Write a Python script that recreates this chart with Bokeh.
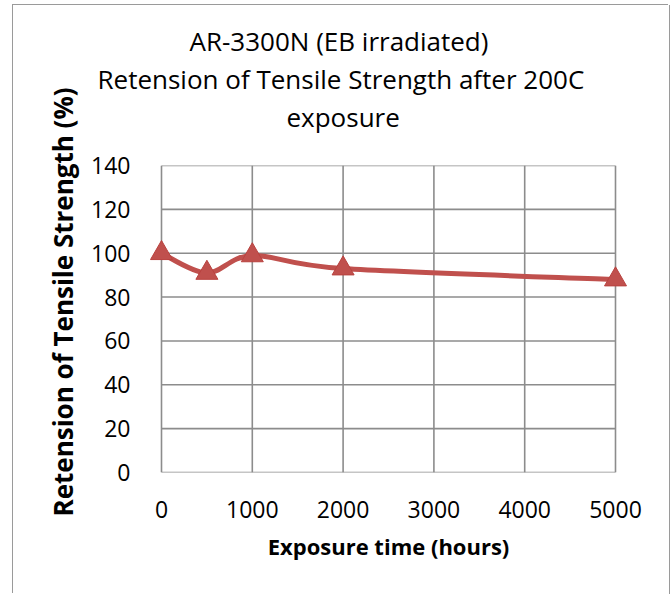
import numpy as np
from bokeh.plotting import figure
from bokeh.models import Range1d, FixedTicker, Title
from bokeh.embed import file_html
from bokeh.resources import INLINE

# ---- data ----
hours = [0, 500, 1000, 2000, 5000]
retention = [100, 91, 99, 93, 88]
x_ticks = [0, 1000, 2000, 3000, 4000, 5000]
y_ticks = [0, 20, 40, 60, 80, 100, 120, 140]
title_lines = ["AR-3300N (EB irradiated)",
               "Retension of Tensile Strength after 200C",
               "exposure"]
x_title = "Exposure time (hours)"
y_title = "Retension of Tensile Strength (%)"

FONT = "Open Sans"
RED = "#c0504d"
GRID = "#8c8c8c"
BORDER = "#9a9a9a"

x_min, x_max = x_ticks[0], x_ticks[-1]
y_min, y_max = y_ticks[0], y_ticks[-1]
pad = 14 * (x_max - x_min) / 454.0

p = figure(frame_width=482, frame_height=307,
           x_range=Range1d(x_min - pad, x_max + pad),
           y_range=Range1d(y_min, y_max),
           min_border_left=134, min_border_right=40,
           min_border_top=160, min_border_bottom=122,
           title=None, output_backend="svg", toolbar_location=None)
# chart-area border (left, top and right edges, as in the reference)
p.styles = {"margin-left": "13px", "margin-top": "5px",
            "box-shadow": f"-1px -1px 0 0 {BORDER}, 1px 0 0 0 {BORDER}"}
p.outline_line_color = None
p.background_fill_color = "white"
p.border_fill_color = "white"
p.xgrid.visible = False
p.ygrid.visible = False

# grid lines (limited to the tick extent, like the Excel plot area)
p.segment(x0=x_ticks, y0=y_min, x1=x_ticks, y1=y_max, line_color=GRID, line_width=1.6)
p.segment(x0=x_min, y0=y_ticks, x1=x_max, y1=y_ticks, line_color=GRID, line_width=1.6)

# axes
for ax in (p.xaxis, p.yaxis):
    ax.axis_line_color = None
    ax.major_tick_line_color = None
    ax.minor_tick_line_color = None
    ax.major_label_text_font = FONT
    ax.major_label_text_font_size = "23px"
    ax.major_label_text_color = "black"
p.xaxis.ticker = FixedTicker(ticks=x_ticks)
p.yaxis.ticker = FixedTicker(ticks=y_ticks)
p.xaxis.major_label_standoff = 22
p.yaxis.major_label_standoff = 11

# smoothed line (cubic Bezier through the points, Excel-style smoothing)
xs = np.array(hours, dtype=float)
ys = np.array(retention, dtype=float)
xp = np.concatenate([[xs[0]], xs, [xs[-1]]])
yp = np.concatenate([[ys[0]], ys, [ys[-1]]])
cx0 = xs[:-1] + (xp[2:-1] - xp[0:-3]) / 6.0
cy0 = ys[:-1] + (yp[2:-1] - yp[0:-3]) / 6.0
cx1 = xs[1:] - (xp[3:] - xp[1:-2]) / 6.0
cy1 = ys[1:] - (yp[3:] - yp[1:-2]) / 6.0
p.bezier(x0=xs[:-1], y0=ys[:-1], x1=xs[1:], y1=ys[1:],
         cx0=cx0, cy0=cy0, cx1=cx1, cy1=cy1,
         line_color=RED, line_width=5, line_cap="round")
p.scatter(hours, retention, marker="triangle", size=22,
          fill_color=RED, line_color="#b9423f", line_width=1)

# chart title: spacer, then three stacked lines (first added is closest to plot)
p.add_layout(Title(text=" ", standoff=2, text_font=FONT, text_font_size="20px"), "above")
for line, off in zip(reversed(title_lines), [139, -50, 42]):
    p.add_layout(Title(text=line, align="left", offset=off, standoff=0,
                       text_font=FONT, text_font_size="26px",
                       text_font_style="normal", text_color="black"), "above")

# axis titles
p.add_layout(Title(text=x_title, align="center", standoff=16,
                   text_font=FONT, text_font_size="22px",
                   text_font_style="bold", text_color="black"), "below")
p.add_layout(Title(text=y_title, align="left", offset=-44, standoff=16,
                   text_font=FONT, text_font_size="26px",
                   text_font_style="bold", text_color="black"), "left")

open("out.html", "w").write(file_html(p, INLINE))
